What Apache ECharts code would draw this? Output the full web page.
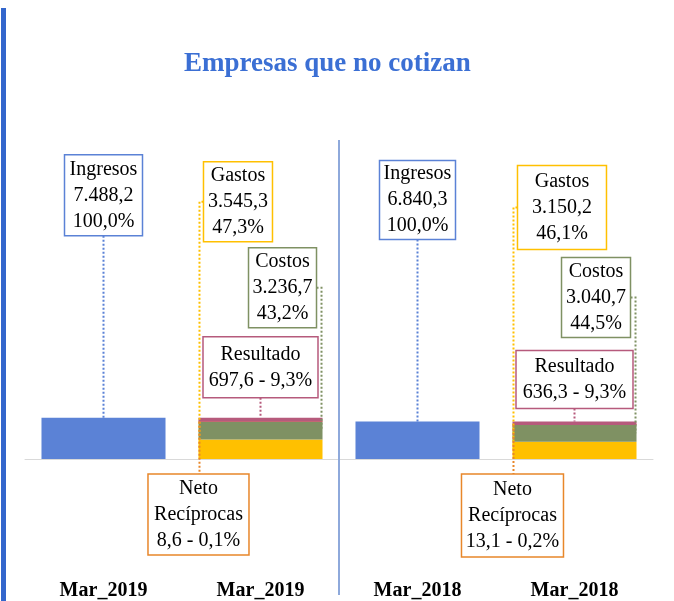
<!DOCTYPE html>
<html>
<head>
<meta charset="utf-8">
<script src="https://cdn.jsdelivr.net/npm/echarts@6/dist/echarts.min.js"></script>
<style>
  html, body { margin: 0; padding: 0; background: #fff; }
  #root { width: 674px; height: 601px; }
</style>
</head>
<body>
<div id="root"></div>
<script>
// data
const categories = ["Mar_2019", "Mar_2019", "Mar_2018", "Mar_2018"];
const ingresos = [7488.2, null, 6840.3, null];
const gastos = [null, 3545.3, null, 3150.2];
const costos = [null, 3236.7, null, 3040.7];
const neto = [null, 8.6, null, 13.1];
const resultado = [null, 697.6, null, 636.3];

const SERIF = "'Liberation Serif', 'Times New Roman', serif";
const BAR_RATIO = 0.79;
const Y_MAX = 58000;

// stack order, bottom to top
const stackDefs = [
  { name: "Ingresos", title: "Ingresos", values: ingresos, color: "#5B82D6" },
  { name: "Gastos", title: "Gastos", values: gastos, color: "#FFC000" },
  { name: "Costos", title: "Costos", values: costos, color: "#7F9163" },
  { name: "Neto Recíprocas", title: "Neto\nRecíprocas", values: neto, color: "#ED7D31" },
  { name: "Resultado", title: "Resultado", values: resultado, color: "#B65A7C" }
];

// label box styles, [2019, 2018]
const noteStyle = [
  { place: "above", border: "#5B82D6", w: [78, 76], h: [81, 79], gap: [182, 182], inline: false },
  { place: "leftUp", border: "#FFC000", w: [69, 89], h: [80, 84], gap: [176, 172], inline: false },
  { place: "rightUp", border: "#7F9163", w: [68, 69], h: [80, 80], gap: [90, 84], inline: false },
  { place: "below", border: "#E8872A", w: [101, 102], h: [81, 83], gap: [15, 15], inline: true },
  { place: "above", border: "#B65A7C", w: [115, 117], h: [61, 58], gap: [20, 13], inline: true }
];

function fmt(v) {
  const parts = v.toFixed(1).split(".");
  return parts[0].replace(/\B(?=(\d{3})+(?!\d))/g, ".") + "," + parts[1];
}

const totals = categories.map((c, i) =>
  stackDefs.reduce((acc, s) => acc + (s.values[i] || 0), 0));

// rows for the label boxes: [cat, low, high, series index, column total]
const noteRows = [];
stackDefs.forEach((s, k) => {
  s.values.forEach((v, i) => {
    if (v == null) return;
    let low = 0;
    for (let j = 0; j < k; j++) low += stackDefs[j].values[i] || 0;
    noteRows.push([i, low, low + v, k, totals[i]]);
  });
});

const splitIndex = categories.findIndex(c => c !== categories[0]);

function noteText(k, cat) {
  const s = stackDefs[k];
  const v = s.values[cat];
  const pct = fmt(v / totals[cat] * 100) + "%";
  if (noteStyle[k].inline) return s.title + "\n" + fmt(v) + " - " + pct;
  return s.title + "\n" + fmt(v) + "\n" + pct;
}

function renderNote(params, api) {
  const cat = api.value(0), lo = api.value(1), hi = api.value(2);
  const k = api.value(3), tot = api.value(4);
  const st = noteStyle[k];
  const yr = cat < splitIndex ? 0 : 1;
  const band = api.size([1, 0])[0];
  const half = band * BAR_RATIO / 2;
  const p0 = api.coord([cat, 0]);
  const cx = p0[0], base = p0[1];
  const segTop = api.coord([cat, hi])[1];
  const segBot = api.coord([cat, lo])[1];
  const colTop = api.coord([cat, tot])[1];
  const left = cx - half, right = cx + half;
  const w = st.w[yr], h = st.h[yr];
  let bx, by, pts;
  if (st.place === "above") {
    bx = cx - w / 2; by = colTop - st.gap[yr] - h;
    pts = [[cx, by + h], [cx, segTop]];
  } else if (st.place === "leftUp") {
    bx = left + 5; by = colTop - st.gap[yr] - h;
    pts = [[bx, by + h / 2], [left + 1, by + h / 2], [left + 1, (segTop + segBot) / 2]];
  } else if (st.place === "rightUp") {
    bx = right - 6 - w; by = colTop - st.gap[yr] - h;
    pts = [[bx + w, by + h / 2], [right - 1, by + h / 2], [right - 1, (segTop + segBot) / 2]];
  } else {
    bx = left - w / 2; by = base + st.gap[yr];
    pts = [[left + 1, segTop], [left + 1, by]];
  }
  return {
    type: "group",
    children: [
      { type: "polyline", shape: { points: pts },
        style: { stroke: st.border, lineWidth: 2, lineDash: [2, 2], fill: null } },
      { type: "rect", shape: { x: bx, y: by, width: w, height: h },
        style: { fill: "#fff", stroke: st.border, lineWidth: 1.5 } },
      { type: "text", x: bx + w / 2, y: by + h / 2,
        style: { text: noteText(k, cat), fill: "#000", fontSize: 20, fontFamily: SERIF,
                 lineHeight: 26, align: "center", verticalAlign: "middle" } }
    ]
  };
}

function renderSplit(params, api) {
  const band = api.size([1, 0])[0];
  const x = api.coord([api.value(0), 0])[0] - band / 2;
  const base = api.coord([api.value(0), 0])[1];
  const top = api.coord([api.value(0), Y_MAX])[1];
  return { type: "line", shape: { x1: x, y1: top, x2: x, y2: base + 136 },
           style: { stroke: "#8EA9DB", lineWidth: 2 } };
}

const chart = echarts.init(document.getElementById("root"));

const barSeries = stackDefs.map(s => ({
  name: s.name,
  type: "bar",
  stack: "total",
  barWidth: (BAR_RATIO * 100) + "%",
  barMinHeight: s.name === "Neto Recíprocas" ? 1 : 0,
  itemStyle: { color: s.color },
  data: s.values.map(v => (v == null ? "-" : v))
}));

chart.setOption({
  animation: false,
  title: {
    text: "Empresas que no cotizan",
    left: 179,
    top: 46,
    textStyle: { color: "#3B6FD4", fontSize: 27, fontWeight: "bold", fontFamily: SERIF }
  },
  graphic: [
    { type: "rect", left: 1, top: 8, shape: { width: 5, height: 593 }, style: { fill: "#3366CC" } }
  ],
  grid: { left: 25, right: 21, top: 140, bottom: 142 },
  xAxis: {
    type: "category",
    data: categories,
    axisLine: { lineStyle: { color: "#D9D9D9", width: 1 } },
    axisTick: { show: false },
    axisLabel: { interval: 0, margin: 122, color: "#000", fontSize: 20, fontWeight: "bold", fontFamily: SERIF }
  },
  yAxis: { type: "value", min: 0, max: Y_MAX, show: false, splitLine: { show: false } },
  series: barSeries.concat([
    { type: "custom", name: "split", renderItem: renderSplit, data: [[splitIndex, 0]],
      encode: { x: 0, y: 1 }, z: 1, silent: true },
    { type: "custom", name: "notes", renderItem: renderNote, data: noteRows,
      encode: { x: 0, y: [1, 2] }, z: 5, silent: true }
  ])
});
</script>
</body>
</html>
